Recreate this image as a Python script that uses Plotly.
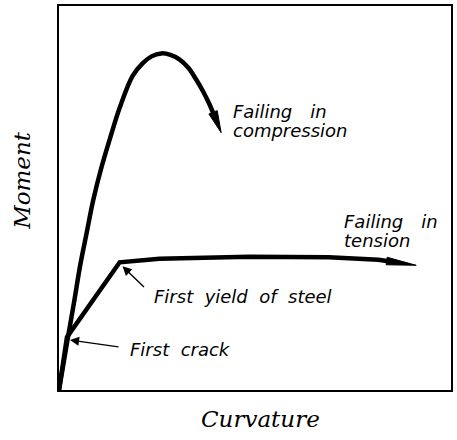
import plotly.graph_objects as go
import numpy as np

# ---- data (arbitrary units) ----
comp_curv = [0.0, 0.216, 0.393, 0.533, 0.703, 0.871, 1.084, 1.307, 1.548, 1.878, 2.132, 2.360,
             2.607, 2.843, 3.071, 3.299, 3.503, 3.680, 3.832, 3.985, 4.137]
comp_mom = [0.0, 1.299, 2.338, 3.203, 4.078, 4.935, 5.800, 6.571, 7.351, 8.182, 8.506, 8.688,
            8.766, 8.727, 8.610, 8.390, 8.078, 7.766, 7.455, 7.091, 6.701]

tens_curv = [0.0, 0.203, 1.548, 2.563, 4.848, 6.878, 8.147, 9.112]
tens_mom = [0.0, 1.377, 3.325, 3.416, 3.468, 3.455, 3.390, 3.247]

first_crack = (0.28, 1.30)
first_yield = (1.62, 3.22)

labels = {
    "comp1": ("Failing\u2003in", 4.39, 7.26),
    "comp2": ("compression", 4.39, 6.75),
    "tens1": ("Failing\u2003in", 7.23, 4.39),
    "tens2": ("tension", 7.23, 3.89),
    "yield": ("First  yield  of  steel", 2.36, 2.44),
    "crack": ("First  crack", 1.75, 1.06),
}

W, H = 457, 440
ML, MR, MT, MB = 59, 4, 5, 50
XR = [0, 10]
YR = [0, 10]
pw, ph = W - ML - MR, H - MT - MB


def to_px(x, y):
    return ((x - XR[0]) / (XR[1] - XR[0]) * pw, (y - YR[0]) / (YR[1] - YR[0]) * ph)


def to_data(px, py):
    return (px / pw * (XR[1] - XR[0]) + XR[0], py / ph * (YR[1] - YR[0]) + YR[0])


def head(xs, ys, length, half):
    tx, ty = to_px(xs[-1], ys[-1])
    bx, by = to_px(xs[-2], ys[-2])
    d = np.array([tx - bx, ty - by])
    d = d / np.linalg.norm(d)
    n = np.array([-d[1], d[0]])
    tip = np.array([tx, ty])
    base = tip - d * length
    pts = [tip, base + n * half, base - n * half, tip]
    out = [to_data(*p) for p in pts]
    bx_, by_ = to_data(*(base + d * 2))
    return [p[0] for p in out], [p[1] for p in out], (bx_, by_)


fig = go.Figure()

chx, chy, cbase = head(comp_curv, comp_mom, 22, 4.5)
thx, thy, tbase = head(tens_curv, tens_mom, 30, 3.8)

fig.add_trace(go.Scatter(x=comp_curv[:-1] + [cbase[0]], y=comp_mom[:-1] + [cbase[1]], mode="lines",
                         line=dict(color="black", width=4.5, shape="spline", smoothing=1.0),
                         hoverinfo="skip"))
fig.add_trace(go.Scatter(x=tens_curv[:-1] + [tbase[0]], y=tens_mom[:-1] + [tbase[1]], mode="lines",
                         line=dict(color="black", width=4.5),
                         hoverinfo="skip"))
for hx, hy in ((chx, chy), (thx, thy)):
    fig.add_trace(go.Scatter(x=hx, y=hy, mode="lines", fill="toself", fillcolor="black",
                             line=dict(color="black", width=1), hoverinfo="skip"))

sans = dict(family="DejaVu Sans", size=18, color="black", style="italic")
for key, (t, x, y) in labels.items():
    fig.add_annotation(x=x, y=y, xref="x", yref="y", text=t, showarrow=False,
                       xanchor="left", yanchor="middle", font=sans)

fig.add_annotation(x=first_yield[0], y=first_yield[1], xref="x", yref="y", text="",
                   showarrow=True, ax=23, ay=22, arrowhead=2, arrowsize=1.3,
                   arrowwidth=1.4, arrowcolor="black", standoff=0)
fig.add_annotation(x=first_crack[0], y=first_crack[1], xref="x", yref="y", text="",
                   showarrow=True, ax=50, ay=7, arrowhead=2, arrowsize=1.3,
                   arrowwidth=1.4, arrowcolor="black", standoff=0)

serif = dict(family="DejaVu Serif", size=23, color="black", style="italic")
fig.add_annotation(x=-0.094, y=0.545, xref="paper", yref="paper", text="Moment",
                   showarrow=False, textangle=-90, font=serif,
                   xanchor="center", yanchor="middle")
fig.add_annotation(x=0.513, y=-0.075, xref="paper", yref="paper", text="Curvature",
                   showarrow=False, font=serif, xanchor="center", yanchor="middle")

fig.update_xaxes(range=XR, showgrid=False, zeroline=False, showticklabels=False,
                 ticks="", showline=True, linecolor="black", linewidth=1.5, mirror=True)
fig.update_yaxes(range=YR, showgrid=False, zeroline=False, showticklabels=False,
                 ticks="", showline=True, linecolor="black", linewidth=1.5, mirror=True)
fig.update_layout(width=W, height=H, margin=dict(l=ML, r=MR, t=MT, b=MB),
                  plot_bgcolor="white", paper_bgcolor="white", showlegend=False)
fig.write_html("out.html", config={"displayModeBar": False},
               post_script="document.body.style.margin='0';document.body.style.overflow='hidden';")
